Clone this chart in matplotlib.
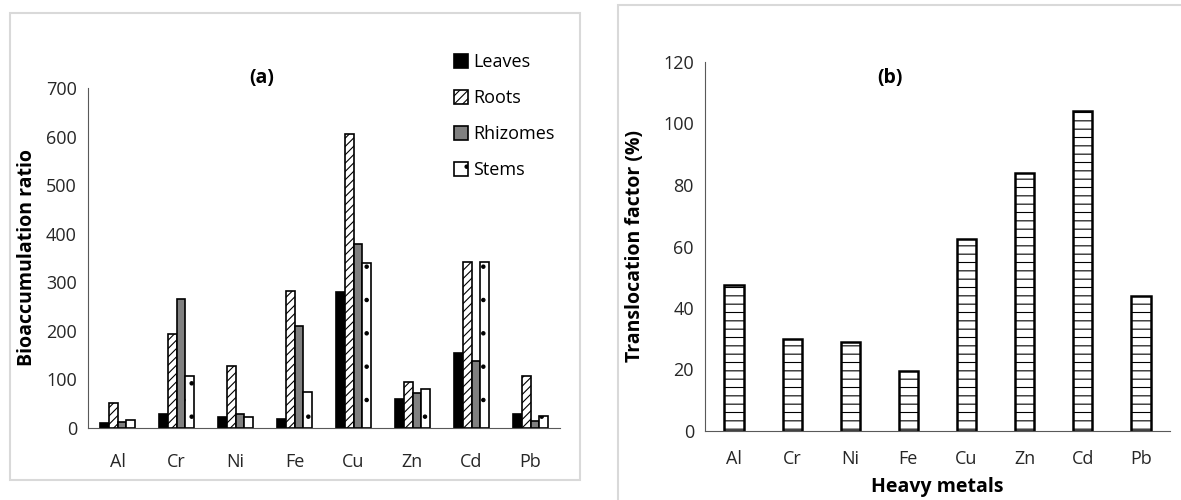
import matplotlib.pyplot as plt
import matplotlib.patches as mpatches
import numpy as np

plt.rcParams['font.family'] = ['Open Sans', 'DejaVu Sans']
plt.rcParams['hatch.linewidth'] = 0.8

metals = ['Al', 'Cr', 'Ni', 'Fe', 'Cu', 'Zn', 'Cd', 'Pb']
leaves = [10, 28, 22, 18, 280, 60, 155, 28]
roots = [52, 193, 127, 283, 605, 95, 342, 107]
rhizomes = [13, 265, 28, 210, 378, 72, 138, 15]
stems = [17, 107, 22, 75, 340, 80, 342, 25]
transloc = [47.5, 30, 29, 19.5, 62.5, 84, 104, 44]

fig = plt.figure(figsize=(11.81, 5), dpi=100)

# grey panel frames
fig.patches.append(mpatches.Rectangle((10 / 1181, 20 / 500), 570 / 1181, 467 / 500,
                                      transform=fig.transFigure, fill=False,
                                      edgecolor='#d9d9d9', linewidth=1.5))
fig.patches.append(mpatches.Rectangle((618 / 1181, -0.01), 570 / 1181, 1 - 5 / 500 + 0.01,
                                      transform=fig.transFigure, fill=False,
                                      edgecolor='#d9d9d9', linewidth=1.5))

# (a) bioaccumulation
ax1 = fig.add_axes([88 / 1181, 72 / 500, 472 / 1181, 340 / 500])
x = np.arange(len(metals))
w = 0.15
series = [
    ('Leaves', leaves, 'black', None),
    ('Roots', roots, 'white', '////'),
    ('Rhizomes', rhizomes, '#808080', None),
    ('Stems', stems, 'white', '.'),
]
for i, (name, vals, col, hatch) in enumerate(series):
    ax1.bar(x + (i - 1.5) * w, vals, w, color=col, edgecolor='black',
            linewidth=1.2, hatch=hatch, label=name)
ax1.set_xlim(-0.5, 7.5)
ax1.set_ylim(0, 700)
ax1.set_yticks(range(0, 701, 100))
ax1.set_xticks(x)
ax1.set_xticklabels(metals)
for s in ['top', 'right']:
    ax1.spines[s].set_visible(False)
ax1.spines['left'].set_color('#595959')
ax1.spines['bottom'].set_color('#595959')
ax1.tick_params(length=0, labelsize=13, colors='#262626')
ax1.tick_params(axis='x', pad=18)
ax1.tick_params(axis='y', pad=8)
ax1.set_ylabel('Bioaccumulation ratio', fontsize=14, fontweight='bold')
ax1.yaxis.set_label_coords(-0.108, 0.5)
ax1.text(2.45, 720, '(a)', fontsize=14, fontweight='bold', ha='center', va='center',
         clip_on=False)
ax1.legend(loc='upper left', bbox_to_anchor=(0.74, 1.15), frameon=False, fontsize=13,
           handlelength=0.8, handleheight=0.8, labelspacing=1.0, handletextpad=0.3)

# (b) translocation factor
ax2 = fig.add_axes([705 / 1181, 69 / 500, 465 / 1181, 369 / 500])
ax2.bar(x, transloc, 0.33, color='white', edgecolor='black', linewidth=1.8, hatch='--')
ax2.set_xlim(-0.5, 7.5)
ax2.set_ylim(0, 120)
ax2.set_yticks(range(0, 121, 20))
ax2.set_xticks(x)
ax2.set_xticklabels(metals)
for s in ['top', 'right']:
    ax2.spines[s].set_visible(False)
ax2.spines['left'].set_color('#595959')
ax2.spines['bottom'].set_color('#595959')
ax2.tick_params(length=0, labelsize=13, colors='#262626')
ax2.tick_params(axis='x', pad=14)
ax2.tick_params(axis='y', pad=8)
ax2.set_ylabel('Translocation factor (%)', fontsize=14, fontweight='bold')
ax2.yaxis.set_label_coords(-0.129, 0.5)
ax2.set_xlabel('Heavy metals', fontsize=14, fontweight='bold')
ax2.xaxis.set_label_coords(0.5, -0.125)
ax2.text(2.68, 114.8, '(b)', fontsize=14, fontweight='bold', ha='center', va='center')

fig.savefig('out.png', dpi=100)
